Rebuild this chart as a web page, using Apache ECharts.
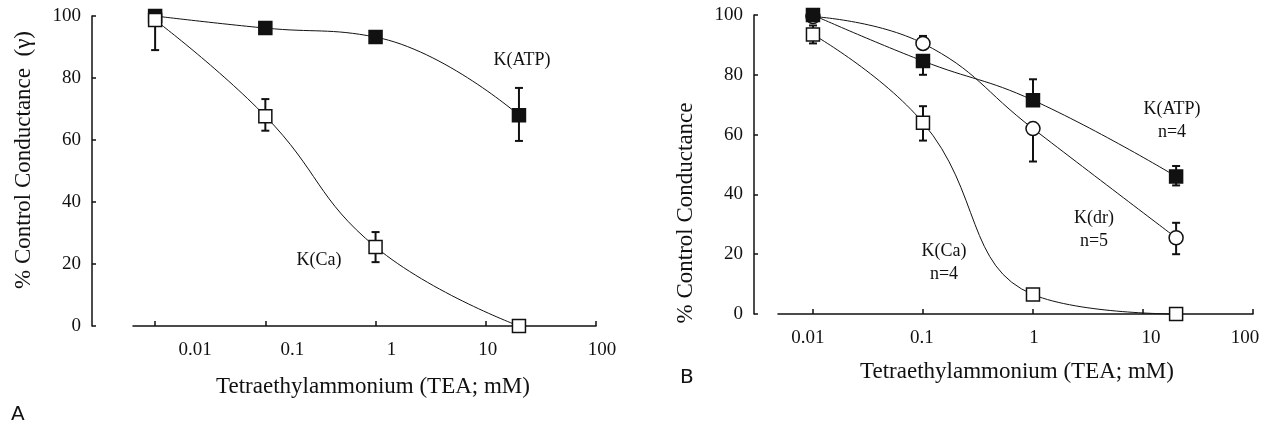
<!DOCTYPE html>
<html>
<head>
<meta charset="utf-8">
<script src="https://cdn.jsdelivr.net/npm/echarts@6/dist/echarts.min.js"></script>
<style>
  html, body { margin: 0; padding: 0; background: #fff; }
  #main { width: 1263px; height: 427px; }
</style>
</head>
<body>
<div id="main"></div>
<script>
// TEA concentrations (mM) and tick labels
var conc = [0.01, 0.1, 1, 20];
var xTicks = [0.01, 0.1, 1, 10, 100];
var xTickText = ['0.01', '0.1', '1', '10', '100'];
var yTicks = [0, 20, 40, 60, 80, 100];

// panel A
var atpA = [100, 96.1, 93.2, 68];
var atpAHi = [null, null, null, 76.8];
var atpALo = [null, null, null, 59.7];
var caA = [98.7, 67.7, 25.5, 0];
var caAHi = [null, 73.2, 30.3, null];
var caALo = [89, 63, 20.6, null];

// panel B
var atpB = [100, 84.6, 71.5, 46];
var atpBHi = [null, null, 78.5, 49.5];
var atpBLo = [null, 80, null, 43];
var drB = [99.5, 90.5, 62, 25.5];
var drBHi = [null, 93, null, 30.5];
var drBLo = [null, null, 51, 20];
var caB = [93.5, 64, 6.5, 0];
var caBHi = [96.5, 69.5, null, null];
var caBLo = [90.5, 58, null, null];

var ink = '#111';
var serif = '"Liberation Serif", "DejaVu Serif", serif';

function pts(vals) {
    return conc.map(function (c, i) { return [c, vals[i]]; });
}
function errPts(vals, lo, hi) {
    return conc.map(function (c, i) {
        var l = lo[i] == null ? vals[i] : lo[i];
        var h = hi[i] == null ? vals[i] : hi[i];
        return [c, l, h, vals[i]];
    });
}

function renderErr(params, api) {
    var x = api.value(0), lo = api.value(1), hi = api.value(2), v = api.value(3);
    var a = api.coord([x, hi]);
    var b = api.coord([x, lo]);
    var st = { stroke: ink, lineWidth: 2 };
    var kids = [{ type: 'line', shape: { x1: a[0], y1: a[1], x2: b[0], y2: b[1] }, style: st }];
    if (hi > v) kids.push({ type: 'line', shape: { x1: a[0] - 4, y1: a[1], x2: a[0] + 4, y2: a[1] }, style: st });
    if (lo < v) kids.push({ type: 'line', shape: { x1: b[0] - 4, y1: b[1], x2: b[0] + 4, y2: b[1] }, style: st });
    return { type: 'group', children: kids };
}

// per-label horizontal nudges (the scan has its labels off the ticks)
function richFor(offsets) {
    var rich = {};
    offsets.forEach(function (o, i) {
        rich['o' + i] = {
            fontFamily: serif, fontSize: 19, color: ink,
            padding: [0, Math.max(0, -2 * o), 0, Math.max(0, 2 * o)]
        };
    });
    return rich;
}
function labelFmt(v) {
    var k = Math.round(Math.log10(v)) + 2;
    return '{o' + k + '|' + xTickText[k] + '}';
}

function xAxisFor(gi, min, offsets, gap, namePad) {
    return {
        type: 'log', gridIndex: gi, min: min, max: 100, logBase: 10,
        name: 'Tetraethylammonium (TEA; mM)', nameLocation: 'middle', nameGap: gap,
        nameTextStyle: { fontFamily: serif, fontSize: 23, color: ink, padding: namePad },
        axisLine: { show: true, lineStyle: { color: ink, width: 1.5 } },
        axisTick: { show: true, inside: true, length: 5, customValues: xTicks, lineStyle: { color: ink, width: 1.5 } },
        axisLabel: { customValues: xTicks, formatter: labelFmt, rich: richFor(offsets), margin: 15 },
        splitLine: { show: false }, minorTick: { show: false }
    };
}
function yAxisFor(gi, offset, margin) {
    return {
        type: 'value', gridIndex: gi, min: 0, max: 100, interval: 20, offset: offset,
        axisLine: { show: true, lineStyle: { color: ink, width: 1.5 } },
        axisTick: { show: true, inside: true, length: 4, customValues: yTicks, lineStyle: { color: ink, width: 1.5 } },
        axisLabel: { fontFamily: serif, fontSize: 19, color: ink, margin: margin },
        splitLine: { show: false }
    };
}

function curve(idx, vals, symbol, filled, z) {
    return {
        type: 'line', xAxisIndex: idx, yAxisIndex: idx, data: pts(vals),
        smooth: 0.45, symbol: symbol, symbolSize: symbol === 'circle' ? 14 : 13,
        showSymbol: true, clip: false, z: z,
        lineStyle: { color: ink, width: 1 },
        itemStyle: { color: filled ? ink : '#fff', borderColor: ink, borderWidth: 1.5 },
        emphasis: { disabled: true }
    };
}
function bars(idx, vals, lo, hi) {
    return {
        type: 'custom', xAxisIndex: idx, yAxisIndex: idx, z: 1,
        data: errPts(vals, lo, hi), renderItem: renderErr,
        encode: { x: 0, y: [1, 2] }
    };
}

function txt(x, y, s, size, rot) {
    return {
        type: 'text', x: x, y: y, rotation: rot || 0,
        style: { text: s, fontFamily: serif, fontSize: size, fill: ink, align: 'center', verticalAlign: 'middle', lineHeight: 23 }
    };
}

var myChart = echarts.init(document.getElementById('main'));
var option = {
    animation: false,
    grid: [
        { left: 133, right: 667, top: 16, bottom: 101 },
        { left: 778, right: 10, top: 15, bottom: 113 }
    ],
    xAxis: [
        xAxisFor(0, 0.0063, [40, 27, 16, 2, 6], 49, [0, 0, 0, 17]),
        xAxisFor(1, 0.00481, [-5, -1, 1, 8, -8], 46, [0, 0, 0, 3])
    ],
    yAxis: [
        yAxisFor(0, 41, 11),
        yAxisFor(1, 24, 11)
    ],
    series: [
        bars(0, atpA, atpALo, atpAHi),
        bars(0, caA, caALo, caAHi),
        curve(0, atpA, 'rect', true, 3),
        curve(0, caA, 'rect', false, 4),
        bars(1, atpB, atpBLo, atpBHi),
        bars(1, drB, drBLo, drBHi),
        bars(1, caB, caBLo, caBHi),
        curve(1, drB, 'circle', false, 3),
        curve(1, caB, 'rect', false, 3),
        curve(1, atpB, 'rect', true, 4)
    ],
    graphic: [
        txt(24, 160, '% Control Conductance  (γ)', 23, Math.PI / 2),
        txt(686, 213, '% Control Conductance', 23, Math.PI / 2),
        txt(522, 60, 'K(ATP)', 18),
        txt(319, 260, 'K(Ca)', 18),
        txt(1172, 121, 'K(ATP)\nn=4', 18),
        txt(1094, 230, 'K(dr)\nn=5', 18),
        txt(944, 263, 'K(Ca)\nn=4', 18),
        { type: 'text', x: 11, y: 405, style: { text: 'A', fontFamily: '"DejaVu Sans", sans-serif', fontSize: 20, fill: ink } },
        { type: 'text', x: 680, y: 368, style: { text: 'B', fontFamily: '"DejaVu Sans", sans-serif', fontSize: 20, fill: ink } }
    ]
};
myChart.setOption(option);
window.onresize = myChart.resize;
</script>
</body>
</html>
